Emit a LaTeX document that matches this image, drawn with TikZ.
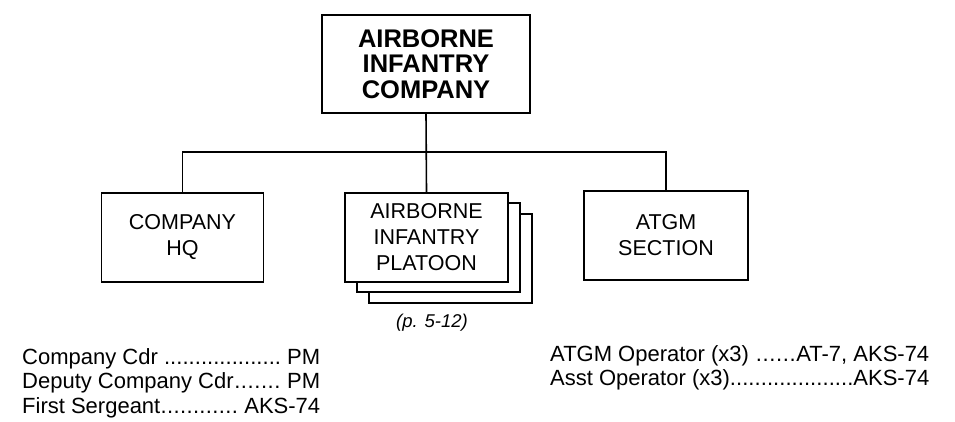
\documentclass[tikz,border=0pt]{standalone}
\usepackage{fontspec}
\setmainfont{Liberation Sans}
\newcommand{\dotsfill}{\xleaders\hbox{.}\hfill}
\begin{document}
\begin{tikzpicture}[x=1pt,y=-1pt,
  unit/.style={draw, line width=1.6pt, rectangle, fill=white, align=center, inner sep=0pt},
  topbox/.style={unit, minimum width=208pt, minimum height=98pt, font=\fontsize{25.5}{25.5}\selectfont\bfseries},
  subbox/.style={unit, minimum width=162pt, minimum height=89pt, font=\fontsize{21.5}{26}\selectfont},
  stackbox/.style={unit, minimum width=163pt, minimum height=89pt},
  conn/.style={line width=1.6pt},
  listtext/.style={anchor=base west, inner sep=0pt, font=\fontsize{22}{26}\selectfont}
]
\useasboundingbox (0,0) rectangle (955,421);
% top
\node[topbox] (top) at (426,64) {AIRBORNE\\INFANTRY\\COMPANY};
% subordinate units
\node[subbox] (hq) at (182.5,237.5) {COMPANY\\HQ};
\node[stackbox] (p3) at (450.5,258.5) {};
\node[stackbox] (p2) at (438.5,247.5) {};
\node[subbox, minimum width=163pt] (plt) at (426.5,237.5) {AIRBORNE\\INFANTRY\\PLATOON};
\node[subbox, minimum width=164pt] (atgm) at (666,235.5) {ATGM\\SECTION};
% connectors
\coordinate (bar) at (426,152);
\draw[conn] (top.south) -- (plt.north);
\draw[conn] (hq.north) -- (hq.north |- bar) -- (atgm.north |- bar) -- (atgm.north);
% reference
\node[anchor=base, inner sep=0pt, font=\fontsize{18.5}{20}\selectfont\itshape] (ref) at (432,327) {(p. 5-12)};
% personnel lists
\node[listtext] (l1) at (22,364) {\makebox[298pt][s]{Company Cdr \dotsfill\ PM}};
\node[listtext] (l2) at (22,388.5) {\makebox[298pt][s]{Deputy Company Cdr\dotsfill\ PM}};
\node[listtext] (l3) at (22,413) {\makebox[298pt][s]{First Sergeant\dotsfill\ AKS-74}};
\node[listtext] (r1) at (550,361) {\makebox[379pt][s]{ATGM Operator (x3) \dotsfill AT-7, AKS-74}};
\node[listtext] (r2) at (550,385.5) {\makebox[379pt][s]{Asst Operator (x3)\dotsfill AKS-74}};
\end{tikzpicture}
\end{document}
